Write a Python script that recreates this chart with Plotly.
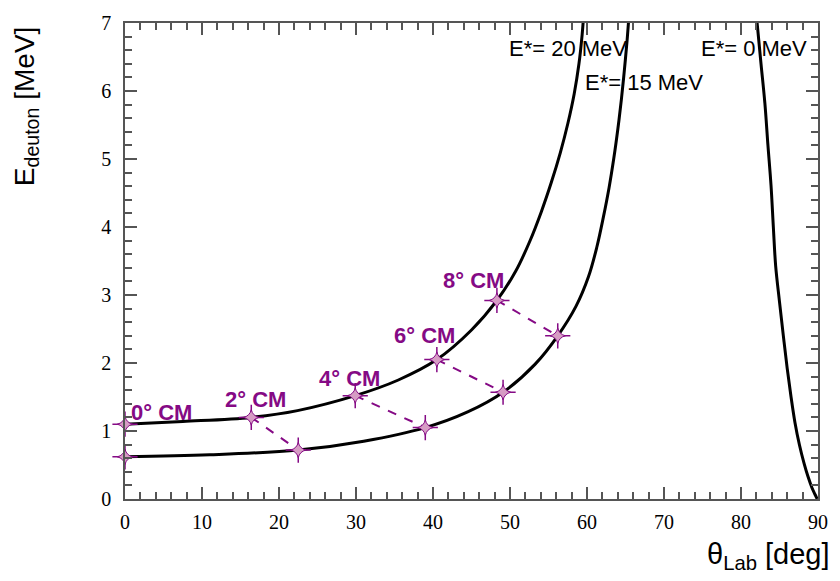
import plotly.graph_objects as go

# Deuteron energy vs lab angle for three excitation energies
theta_20 = [0, 7.5, 16.4, 22.4, 29.9, 35.5, 40.5, 45.0, 48.3, 50.75, 52.56, 54.06, 55.37,
            56.53, 57.52, 58.34, 58.95, 59.37, 59.51]
E_20 = [1.10, 1.14, 1.20, 1.30, 1.52, 1.75, 2.05, 2.485, 2.92, 3.352, 3.787, 4.222, 4.657,
        5.091, 5.526, 5.961, 6.396, 6.830, 7.03]

theta_15 = [0, 11.0, 22.5, 31.0, 39.0, 44.5, 49.1, 53.27, 56.2, 58.58, 60.20, 61.28, 62.12,
            62.86, 63.48, 64.01, 64.47, 64.86, 65.21, 65.40]
E_15 = [0.62, 0.65, 0.72, 0.85, 1.05, 1.28, 1.57, 1.984, 2.40, 2.836, 3.271, 3.706, 4.141,
        4.575, 5.010, 5.445, 5.880, 6.314, 6.749, 7.03]

theta_0 = [82.05, 82.6, 83.1, 83.5, 83.9, 84.2, 84.5, 85.0, 85.5, 86.0, 86.5, 87.0, 87.6, 88.2,
           88.7, 89.2, 89.6, 89.9]
E_0 = [7.05, 6.40, 5.82, 5.20, 4.61, 4.00, 3.43, 2.90, 2.40, 1.92, 1.50, 1.13, 0.79, 0.52,
       0.33, 0.17, 0.07, 0.0]

# Points of equal centre-of-mass angle on the two excited-state curves
cm_labels = ["0° CM", "2° CM", "4° CM", "6° CM", "8° CM"]
cm_theta_20 = [0, 16.4, 29.9, 40.5, 48.3]
cm_E_20 = [1.10, 1.20, 1.52, 2.05, 2.92]
cm_theta_15 = [0, 22.5, 39.0, 49.1, 56.2]
cm_E_15 = [0.62, 0.72, 1.05, 1.57, 2.40]

# Label anchor positions (left edge, vertical centre)
cm_label_theta = [0.5, 12.7, 24.9, 34.7, 41.1]
cm_label_E = [1.27, 1.47, 1.77, 2.40, 3.22]

curve_labels = ["E*= 20 MeV", "E*= 15 MeV", "E*= 0 MeV"]
curve_label_theta = [49.6, 59.5, 74.5]
curve_label_E = [6.62, 6.13, 6.62]

PURPLE = "#850a85"
AXIS = "#555555"

fig = go.Figure()

for th, en in [(theta_20, E_20), (theta_15, E_15), (theta_0, E_0)]:
    fig.add_trace(go.Scatter(x=th, y=en, mode="lines",
                             line=dict(color="black", width=3, shape="spline", smoothing=1.0),
                             showlegend=False, hoverinfo="skip"))

# dashed connectors between matching CM angles
for i in range(1, len(cm_labels)):
    fig.add_trace(go.Scatter(x=[cm_theta_20[i], cm_theta_15[i]], y=[cm_E_20[i], cm_E_15[i]],
                             mode="lines", line=dict(color=PURPLE, width=2, dash="dash"),
                             showlegend=False, hoverinfo="skip"))

star_x = cm_theta_20 + cm_theta_15
star_y = cm_E_20 + cm_E_15
# four-pointed star: thin cross for the points, small concave diamond for the body
fig.add_trace(go.Scatter(x=star_x, y=star_y, mode="markers",
                         marker=dict(symbol="cross-thin", size=18,
                                     line=dict(color=PURPLE, width=1.5)),
                         cliponaxis=False, showlegend=False, hoverinfo="skip"))
fig.add_trace(go.Scatter(x=star_x, y=star_y, mode="markers",
                         marker=dict(symbol="star-diamond", size=11, color="#d69cc4",
                                     line=dict(color=PURPLE, width=1)),
                         cliponaxis=False, showlegend=False, hoverinfo="skip"))

for lab, x, y in zip(cm_labels, cm_label_theta, cm_label_E):
    fig.add_annotation(x=x, y=y, text=f"<b>{lab}</b>", showarrow=False,
                       xanchor="left", yanchor="middle",
                       font=dict(family="Liberation Sans", size=22, color=PURPLE))

for lab, x, y in zip(curve_labels, curve_label_theta, curve_label_E):
    fig.add_annotation(x=x, y=y, text=lab, showarrow=False,
                       xanchor="left", yanchor="middle",
                       font=dict(family="Liberation Sans", size=22, color="black"))

# axis titles
fig.add_annotation(xref="paper", yref="paper", x=-0.143, y=0.825,
                   text="E<sub>deuton</sub> [MeV]", textangle=-90, showarrow=False,
                   xanchor="center", yanchor="middle",
                   font=dict(family="Liberation Sans", size=28, color="black"))
fig.add_annotation(xref="paper", yref="paper", x=1.02, y=-0.12,
                   text="θ<sub>Lab</sub> [deg]", showarrow=False,
                   xanchor="right", yanchor="middle",
                   font=dict(family="Liberation Sans", size=29, color="black"))

axis_common = dict(showgrid=False, zeroline=False, showline=True, linecolor=AXIS, linewidth=1.5,
                   mirror="allticks", ticks="inside", ticklen=12, tickwidth=1.5, tickcolor=AXIS,
                   tickfont=dict(family="Liberation Serif", size=20, color="black"))

fig.update_xaxes(range=[0, 90], dtick=10, tick0=0,
                 minor=dict(dtick=2, ticks="inside", ticklen=7, tickcolor=AXIS, tickwidth=1.5),
                 ticklabelstandoff=4, **axis_common)
fig.update_yaxes(range=[0, 7], dtick=1, tick0=0,
                 minor=dict(dtick=0.2, ticks="inside", ticklen=7, tickcolor=AXIS, tickwidth=1.5),
                 ticklabelstandoff=8, **axis_common)

fig.update_layout(width=840, height=581, margin=dict(l=125, r=14, t=16, b=82),
                  paper_bgcolor="white", plot_bgcolor="white")

fig.write_html("out.html")
